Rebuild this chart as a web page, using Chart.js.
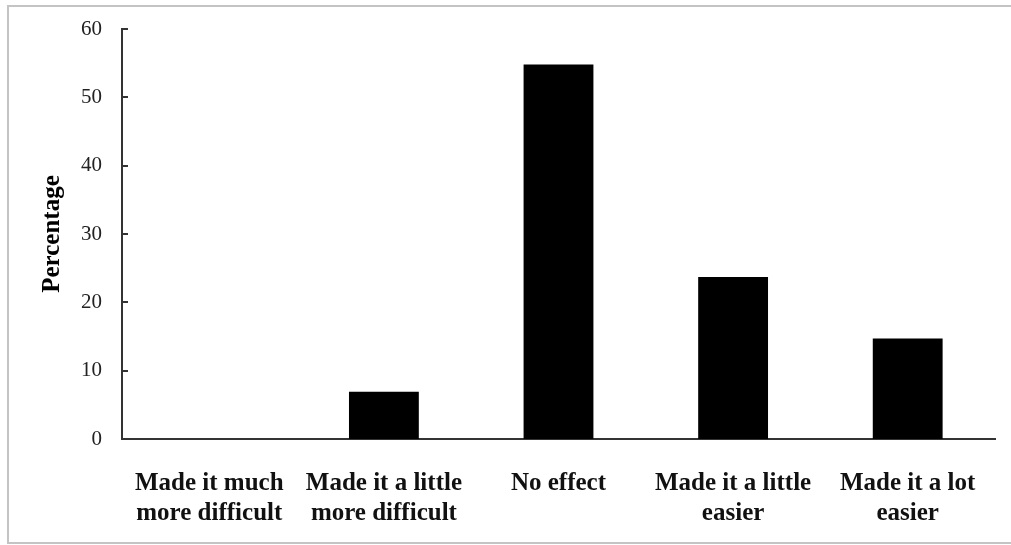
<!DOCTYPE html>
<html>
<head>
<meta charset="utf-8">
<script src="https://cdn.jsdelivr.net/npm/chart.js@4.4.0/dist/chart.umd.min.js"></script>
<style>
	body { margin: 0; background: #fff; }
	#wrap { position: relative; width: 1011px; height: 545px; overflow: hidden; }
	#frame { position: absolute; left: 7px; top: 5px; width: 1020px; height: 535px; border: 2px solid #c4c4c4; border-right: none; }
	#mycanvas { position: absolute; left: 0; top: 0; }
</style>
</head>
<body>
<div id="wrap">
	<div id="frame"></div>
	<canvas id="mycanvas" width="1011" height="545"></canvas>
</div>
<script>
var categories = [
	["Made it much", "more difficult"],
	["Made it a little", "more difficult"],
	"No effect",
	["Made it a little", "easier"],
	["Made it a lot", "easier"]
];
var percentage = [0, 6.9, 54.8, 23.7, 14.7];
var yTicks = [0, 10, 20, 30, 40, 50, 60];

// tick marks on the y axis point inward, chart.js can't do that by itself
var insideTicks = {
	id: 'insideTicks',
	afterDraw: function(chart) {
		var ctx = chart.ctx;
		var y = chart.scales.y;
		ctx.save();
		ctx.strokeStyle = "#333";
		ctx.lineWidth = 2;
		for (var i in yTicks) {
			var py = Math.round(y.getPixelForValue(yTicks[i]));
			ctx.beginPath();
			ctx.moveTo(y.right, py);
			ctx.lineTo(y.right + 6, py);
			ctx.stroke();
		}
		ctx.restore();
	}
};

var chartdata = {
	labels: categories,
	datasets: [
		{
			label: 'Percentage',
			backgroundColor: "#000",
			borderWidth: 0,
			data: percentage,
			barPercentage: 0.4,
			categoryPercentage: 1
		}
	]
};

var ctx = document.getElementById("mycanvas");

var barGraph = new Chart(ctx, {
	type: 'bar',
	data: chartdata,
	plugins: [insideTicks],
	options: {
		responsive: false,
		animation: false,
		layout: { padding: { left: 30, right: 16, top: 29, bottom: 0 } },
		plugins: {
			legend: { display: false },
			tooltip: { enabled: false }
		},
		scales: {
			x: {
				grid: { display: false },
				border: { display: true, color: "#333", width: 2 },
				ticks: {
					color: "#111",
					padding: 22,
					maxRotation: 0,
					autoSkip: false,
					font: { family: "'Liberation Serif', 'Times New Roman', serif", size: 25, weight: 'bold', lineHeight: 1.2 }
				},
				afterFit: function(scale) { scale.height = 106; }
			},
			y: {
				min: 0,
				max: 60,
				grid: { display: false },
				border: { display: true, color: "#333", width: 2 },
				afterBuildTicks: function(scale) {
					scale.ticks = yTicks.map(function(v) { return { value: v }; });
				},
				ticks: {
					color: "#222",
					padding: 12,
					font: { family: "'Liberation Serif', 'Times New Roman', serif", size: 21 }
				},
				title: {
					display: true,
					text: 'Percentage',
					color: "#000",
					padding: { top: 8, bottom: 0 },
					font: { family: "'Liberation Serif', 'Times New Roman', serif", size: 25, weight: 'bold' }
				},
				afterFit: function(scale) { scale.width = 92; }
			}
		}
	}
});
</script>
</body>
</html>
